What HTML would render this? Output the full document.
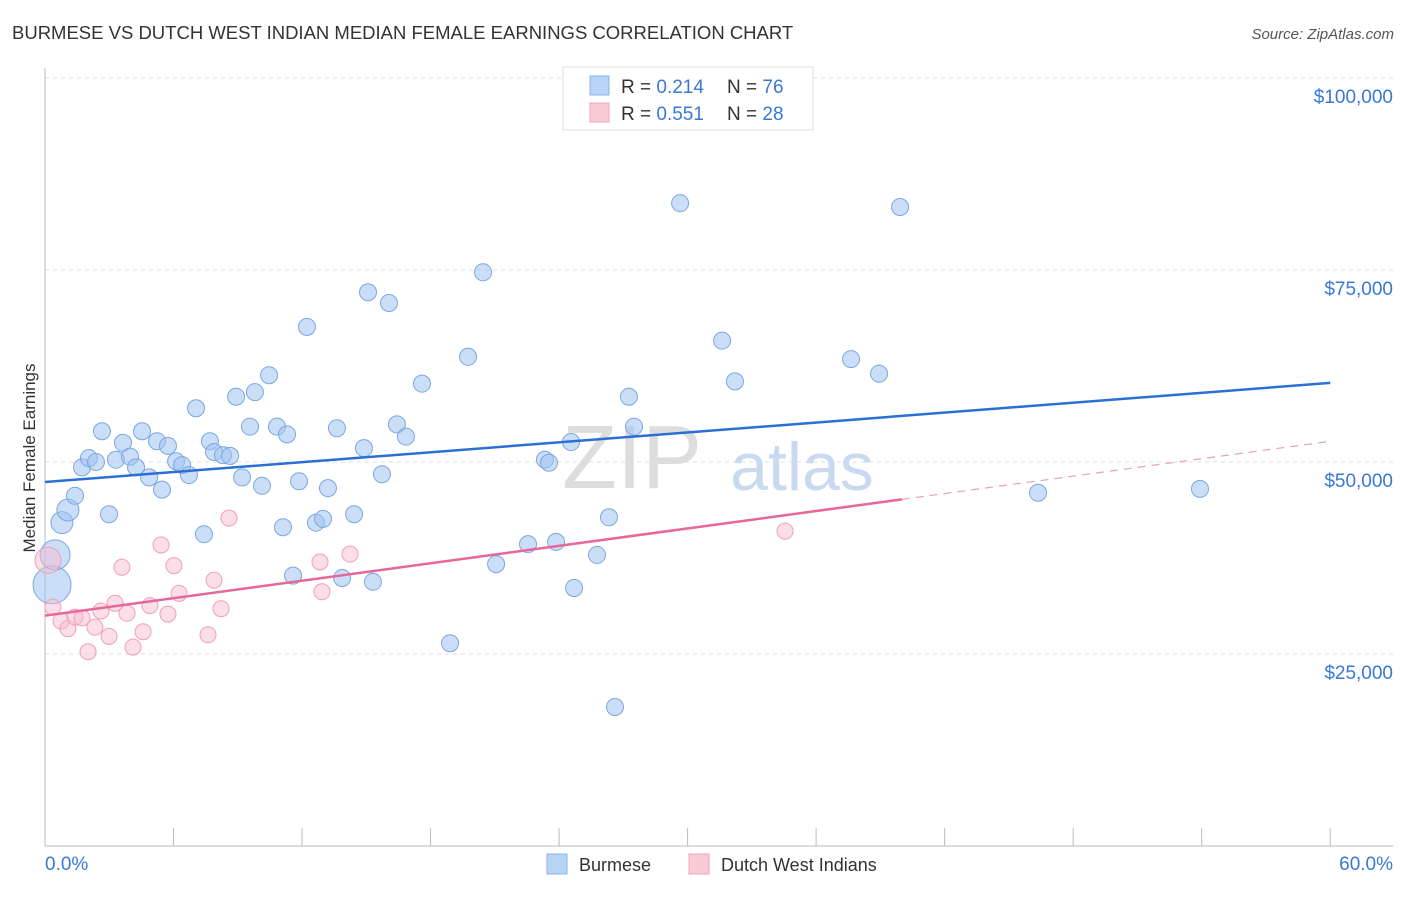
<!DOCTYPE html>
<html><head><meta charset="utf-8"><style>
body{margin:0;background:#fff;font-family:"Liberation Sans",sans-serif}
svg text{font-family:"Liberation Sans",sans-serif}
</style></head><body>
<svg width="1406" height="892" id="c">
<text x="12" y="39" font-size="18.5" fill="#333">BURMESE VS DUTCH WEST INDIAN MEDIAN FEMALE EARNINGS CORRELATION CHART</text>
<text x="1394" y="39" font-size="15" fill="#555" text-anchor="end" font-style="italic">Source: ZipAtlas.com</text>
<text x="35" y="458" font-size="17" fill="#333" text-anchor="middle" transform="rotate(-90 35 458)">Median Female Earnings</text>
<g id="grid"></g>
<text x="632" y="488" font-size="90" fill="#ddd" font-family="Liberation Serif" text-anchor="middle">ZIP</text>
<text x="802" y="490" font-size="68" fill="#c9d9f0" text-anchor="middle">atlas</text>
<g id="axes"></g>
<g id="pts"></g>
<g id="lines"></g>
<g>
<rect x="563" y="67" width="250" height="63" fill="#fff" stroke="#ddd"/>
<rect x="590" y="76" width="19" height="19" fill="#b7d3f5" stroke="#8ab4e8"/>
<text x="621" y="93" font-size="19" fill="#333">R = <tspan fill="#3a78d6">0.214</tspan></text>
<text x="727" y="93" font-size="19" fill="#333">N = <tspan fill="#3a78d6">76</tspan></text>
<rect x="590" y="103" width="19" height="19" fill="#f9cbd9" stroke="#f0a3ba"/>
<text x="621" y="120" font-size="19" fill="#333">R = <tspan fill="#3a78d6">0.551</tspan></text>
<text x="727" y="120" font-size="19" fill="#333">N = <tspan fill="#3a78d6">28</tspan></text>
</g>
<g>
<rect x="547" y="854" width="20" height="20" fill="#b7d3f5" stroke="#8ab4e8"/>
<text x="579" y="871" font-size="18" fill="#333">Burmese</text>
<rect x="689" y="854" width="20" height="20" fill="#f9cbd9" stroke="#f0a3ba"/>
<text x="721" y="871" font-size="18" fill="#333">Dutch West Indians</text>
</g>
</svg>
<script>
const blueX=[0.33,0.47,0.79,1.07,1.40,1.73,2.05,2.38,2.66,2.99,3.31,3.64,3.97,4.25,4.53,4.86,5.23,5.46,5.74,6.12,6.40,6.72,7.05,7.42,7.70,7.89,8.31,8.64,8.92,9.20,9.57,9.80,10.13,10.46,10.83,11.11,11.30,11.58,11.86,12.23,12.65,12.98,13.21,13.63,13.87,14.43,14.89,15.08,15.31,15.73,16.06,16.43,16.85,17.60,18.91,19.75,20.45,21.06,22.55,23.34,23.53,23.86,24.56,24.70,25.77,26.33,26.61,27.26,27.50,29.65,31.61,32.21,37.63,38.94,39.92,46.36,53.92];
const blueY=[34.0,37.9,42.1,43.75,45.6,49.3,50.5,50.0,54.0,43.2,50.3,52.5,50.7,49.3,54.0,48.0,52.7,46.4,52.1,50.1,49.6,48.3,57.0,40.6,52.7,51.3,50.9,50.8,58.5,48.0,54.6,59.1,46.9,61.3,54.6,41.5,53.6,35.2,47.5,67.6,42.1,42.6,46.6,54.4,34.9,43.2,51.8,72.1,34.4,48.4,70.7,54.9,53.3,60.2,26.4,63.7,74.7,36.7,39.3,50.3,49.9,39.6,52.6,33.6,37.9,42.8,18.1,58.5,54.6,83.7,65.8,60.5,63.4,61.5,83.2,46.0,46.5];
const pinkX=[0.14,0.37,0.75,1.07,1.40,1.73,2.01,2.33,2.61,2.99,3.27,3.59,3.83,4.11,4.58,4.90,5.42,5.74,6.02,6.26,7.61,7.89,8.22,8.59,12.84,12.93,14.24,34.55];
const pinkY=[37.2,31.1,29.3,28.3,29.8,29.7,25.3,28.5,30.6,27.3,31.6,36.3,30.3,25.9,27.9,31.3,39.2,30.2,36.5,32.9,27.5,34.6,30.9,42.7,37.0,33.1,38.0,41.0];
const blueTrend=[47.4,60.3];
const pinkTrend=[30.0,52.7];
const yTicks=[25,50,75,100];
const yTickLabels=["$25,000","$50,000","$75,000","$100,000"];
const xTicks=[0,6,12,18,24,30,36,42,48,54,60];
const NS="http://www.w3.org/2000/svg";
const X=p=>45+p*21.42, Y=v=>846-v*7.68;
function mk(t,a,parent){const e=document.createElementNS(NS,t);for(const k in a)e.setAttribute(k,a[k]);document.getElementById(parent).appendChild(e);return e;}
yTicks.forEach((v,i)=>{
 const l=mk('line',{x1:45,x2:1393,y1:Y(v),y2:Y(v),stroke:'#ddd','stroke-dasharray':'4 4'},'grid');
 
 
 const t=mk('text',{x:1393,y:Y(v)+25,'font-size':19,fill:'#3a78d6','text-anchor':'end'},'grid');
 t.textContent=yTickLabels[i];
 
 
});
const ax=mk('line',{x1:45,x2:1393,y1:846,y2:846,stroke:'#bbb'},'axes');


const ay=mk('line',{x1:45,x2:45,y1:68,y2:846,stroke:'#bbb'},'axes');


xTicks.forEach(p=>{const t=mk('line',{x1:X(p),x2:X(p),y1:828,y2:846,stroke:'#bbb'},'axes');
 
 });
const xl=mk('text',{x:45,y:870,'font-size':19,fill:'#3a78d6'},'axes');xl.textContent='0.0%';


const xr=mk('text',{x:1393,y:870,'font-size':19,fill:'#3a78d6','text-anchor':'end'},'axes');xr.textContent='60.0%';


blueX.forEach((p,i)=>{const r=i==0?19:i==1?15:i<4?11:8.5;
 const c=mk('circle',{cx:X(p),cy:Y(blueY[i]),r:r,fill:'rgba(160,195,240,0.55)',stroke:'#7aa8e0','stroke-width':1},'pts');
 
 });
pinkX.forEach((p,i)=>{const r=i==0?13:8;
 const c=mk('circle',{cx:X(p),cy:Y(pinkY[i]),r:r,fill:'rgba(248,190,210,0.5)',stroke:'#eea0b8','stroke-width':1},'pts');
 
 });
const bl=mk('line',{x1:X(0),y1:Y(blueTrend[0]),x2:X(60),y2:Y(blueTrend[1]),stroke:'#2a6fd6','stroke-width':2.5},'lines');


const pv=x=>pinkTrend[0]+(pinkTrend[1]-pinkTrend[0])*x/60;
const pl=mk('line',{x1:X(0),y1:Y(pv(0)),x2:X(40),y2:Y(pv(40)),stroke:'#e8679a','stroke-width':2.5},'lines');


const pd=mk('line',{x1:X(40),y1:Y(pv(40)),x2:X(60),y2:Y(pv(60)),stroke:'#e8a0ba','stroke-width':1.2,'stroke-dasharray':'8 6'},'lines');


</script>
</body></html>
